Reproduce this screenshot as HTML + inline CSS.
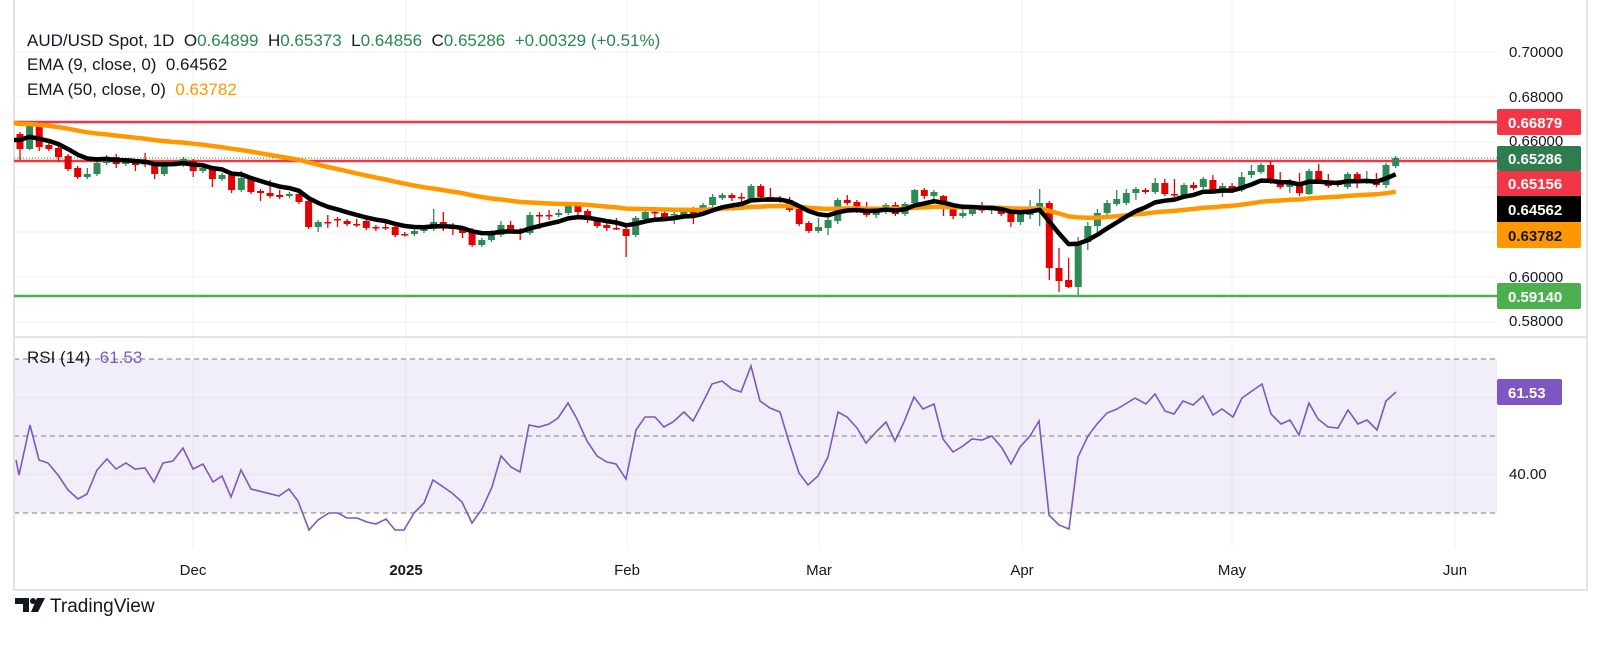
<!DOCTYPE html>
<html><head><meta charset="utf-8">
<style>
html,body{margin:0;padding:0;background:#fff;}
body{width:1602px;height:644px;overflow:hidden;font-family:"Liberation Sans",sans-serif;}
svg text{font-family:"Liberation Sans",sans-serif;white-space:pre;}
</style></head>
<body>
<svg id="c" width="1602" height="644" xmlns="http://www.w3.org/2000/svg">
<rect width="1602" height="644" fill="#fff"/>
<g id="grid" stroke="#f0f1f4" stroke-width="1">
<line x1="14" y1="52" x2="1497" y2="52"/><line x1="14" y1="97" x2="1497" y2="97"/>
<line x1="14" y1="142" x2="1497" y2="142"/><line x1="14" y1="187" x2="1497" y2="187"/>
<line x1="14" y1="232" x2="1497" y2="232"/><line x1="14" y1="277" x2="1497" y2="277"/>
<line x1="14" y1="322" x2="1497" y2="322"/>
<line x1="193" y1="0" x2="193" y2="548"/><line x1="406" y1="0" x2="406" y2="548"/>
<line x1="627" y1="0" x2="627" y2="548"/><line x1="819" y1="0" x2="819" y2="548"/>
<line x1="1022" y1="0" x2="1022" y2="548"/><line x1="1232" y1="0" x2="1232" y2="548"/>
<line x1="1455" y1="0" x2="1455" y2="548"/>
</g>
<rect x="14" y="359" width="1483" height="154" fill="#7e57c2" fill-opacity="0.1"/>
<line x1="14" y1="398" x2="1497" y2="398" stroke="#e6e3ee"/>
<line x1="14" y1="474" x2="1497" y2="474" stroke="#e6e3ee"/>
<g stroke="#787b86" stroke-width="1" stroke-dasharray="5,4">
<line x1="14" y1="359" x2="1497" y2="359"/><line x1="14" y1="436" x2="1497" y2="436"/><line x1="14" y1="513" x2="1497" y2="513"/>
</g>
<line x1="14" y1="337" x2="1587" y2="337" stroke="#e0e3eb" stroke-width="2"/>
<line x1="14" y1="0" x2="14" y2="591" stroke="#e0e3eb" stroke-width="2"/>
<line x1="14" y1="590" x2="1587" y2="590" stroke="#e0e3eb" stroke-width="2"/>
<line x1="1587" y1="0" x2="1587" y2="591" stroke="#e0e3eb" stroke-width="2"/>
<line x1="14" y1="122" x2="1497" y2="122" stroke="#f23645" stroke-width="2.5"/>
<line x1="14" y1="158" x2="1497" y2="158" stroke="#2e8b57" stroke-width="1" stroke-dasharray="1,2"/>
<line x1="14" y1="161" x2="1497" y2="161" stroke="#f23645" stroke-width="2.5"/>
<line x1="14" y1="296" x2="1497" y2="296" stroke="#4caf50" stroke-width="2.5"/>
<g id="candles"></g>
<polyline id="e50" fill="none" stroke="#ff9800" stroke-width="4.5" stroke-linejoin="round"/>
<polyline id="e9" fill="none" stroke="#000" stroke-width="4.5" stroke-linejoin="round"/>
<polyline id="rsi" fill="none" stroke="#7e57c2" stroke-width="1.6" points="16,460 19,475 30,425 39,460 48,463 58,475 68,490 78,499 87,494 97,470 107,459 116,469 126,463 135,469 145,468 154,482 163,463 173,461 183,448 193,469 203,464 213,482 222,476 231,497 241,470 251,489 279,496 289,489 298,501 309,530 318,520 329,513 338,513 347,518 357,518 367,522 376,524 386,519 395,530 404,530 414,513 424,503 433,480 452,493 462,502 472,523 482,509 492,487 501,456 511,467 520,472 529,425 539,427 549,424 558,418 568,403 577,419 587,441 597,456 607,462 616,464 626,479 636,430 645,417 655,417 664,427 673,422 684,412 693,421 703,402 712,384 722,381 732,389 741,392 751,366 760,401 770,408 780,412 789,442 799,473 808,485 818,476 828,457 838,412 847,417 857,428 866,443 876,432 886,422 895,441 904,422 914,397 923,409 934,404 943,439 953,452 963,446 972,439 982,440 992,436 1002,448 1011,464 1020,447 1030,436 1039,421 1049,515 1059,525 1069,529 1078,457 1088,436 1097,424 1107,413 1117,409 1127,403 1135,398 1146,404 1155,394 1165,411 1174,414 1183,401 1193,405 1203,396 1213,415 1222,409 1233,417 1242,398 1252,391 1262,384 1271,414 1281,424 1290,420 1299,435 1309,403 1318,419 1328,427 1338,428 1348,410 1358,424 1367,420 1377,430 1386,401 1396,392"/>
<text x="27" y="46" font-size="17" fill="#131722" xml:space="preserve">AUD/USD Spot, 1D  O<tspan fill="#26894f">0.64899</tspan>  H<tspan fill="#26894f">0.65373</tspan>  L<tspan fill="#26894f">0.64856</tspan>  C<tspan fill="#26894f">0.65286</tspan>  <tspan fill="#26894f">+0.00329 (+0.51%)</tspan></text>
<text x="27" y="70" font-size="17" fill="#131722" xml:space="preserve">EMA (9, close, 0)  0.64562</text>
<text x="27" y="95" font-size="17" fill="#131722" xml:space="preserve">EMA (50, close, 0)  <tspan fill="#ff9800">0.63782</tspan></text>
<text x="27" y="363" font-size="17" fill="#131722" xml:space="preserve">RSI (14)  <tspan fill="#7e57c2">61.53</tspan></text>
<g font-size="15" fill="#131722">
<text x="1509" y="57">0.70000</text><text x="1509" y="102">0.68000</text>
<text x="1509" y="146">0.66000</text><text x="1509" y="282">0.60000</text>
<text x="1509" y="326">0.58000</text><text x="1509" y="479">40.00</text>
</g>
<g font-size="15" font-weight="bold">
<rect x="1497" y="109" width="84" height="26" rx="2" fill="#f23645"/><text x="1508" y="128" fill="#fff">0.66879</text>
<rect x="1497" y="146" width="84" height="25" rx="2" fill="#2e7d4f"/><text x="1508" y="164" fill="#fff">0.65286</text>
<rect x="1497" y="171" width="84" height="25" fill="#f23645"/><text x="1508" y="189" fill="#fff">0.65156</text>
<rect x="1497" y="196" width="84" height="26" fill="#000"/><text x="1508" y="215" fill="#fff">0.64562</text>
<rect x="1497" y="222" width="84" height="26" rx="2" fill="#ff9800"/><text x="1508" y="241" fill="#131722">0.63782</text>
<rect x="1497" y="283" width="84" height="26" rx="2" fill="#4caf50"/><text x="1508" y="302" fill="#fff">0.59140</text>
<rect x="1497" y="379" width="65" height="26" rx="2" fill="#7e57c2"/><text x="1508" y="398" fill="#fff">61.53</text>
</g>
<g font-size="15" fill="#131722" text-anchor="middle">
<text x="193" y="575">Dec</text><text x="406" y="575" font-weight="bold">2025</text>
<text x="627" y="575">Feb</text><text x="819" y="575">Mar</text>
<text x="1022" y="575">Apr</text><text x="1232" y="575">May</text><text x="1455" y="575">Jun</text>
</g>
<g fill="#131722">
<path d="M15 598h14v14h-6v-8h-8z"/><circle cx="33" cy="601" r="3"/><path d="M37 598h8l-7 14h-7z"/>
<text x="50" y="612" font-size="19">TradingView</text>
</g>
</svg>
<script>
var D=[[134,132,160,149],[149,122,150,124],[124,122,151,147],[145,0,0,149],[148,0,161,157],[156,0,0,169],[168,0,0,177],[177,168,0,174],[174,0,0,163],[163,0,0,157],
[157,154,168,164],[164,0,0,161],[161,0,171,165],[163,153,167,164],[164,0,179,174],[174,0,0,165],[164,0,0,163],[165,0,0,159],[161,0,177,171],[171,0,0,168],
[168,0,187,179],[179,0,0,175],[175,0,193,190],[190,171,0,178],[178,0,0,192],[191,0,201,193],[193,180,0,196],[195,190,0,197],[196,0,0,194],[194,0,0,202],
[201,0,0,227],[227,0,232,222],[222,215,228,222.5],[219,0,227,220],[221,0,0,224],[224,219,0,225],[221,0,0,228],[227,0,231,228],[227,222,230,227],[227,0,0,235],
[234,0,0,234.5],[234,0,0,231],[231,0,0,228],[229,209,0,222],[222,212,231,226],[225,0,235,229],[228,0,238,233],[230,0,0,245],[245,0,247,240],[240,230,0,234],
[235,221,0,225],[225,221,0,231],[230,0,240,233],[233,212,0,215],[215,212,229,215.5],[215,210,220,215],[215,209,0,213],[213,202,0,206],[206,0,215,212],[211,0,223,220],
[219,0,0,226],[225,0,231,228],[228,218,230,228.5],[229,0,257,236],[235,0,0,218],[219,210,220,212],[212,0,218,212.5],[213,209,220,217],[215,209,224,214],[215,209,0,210],
[210,207,224,214],[214,203,0,205],[205,194,0,197],[198,193,0,195],[195,0,201,198],[197,193,202,198],[199,0,202,186],[186,0,0,197],[197,188,0,199],[199,196,203,199.5],
[200,197,0,210],[209,0,0,224],[223,0,233,231],[231,218,0,227],[228,0,235,220],[221,0,224,200],[200,195,0,203],[202,0,213,208],[208,202,0,215],[215,207,218,210],
[212,203,0,205],[205,202,216,214],[214,202,0,204],[203,189,0,190],[190,0,199,196],[196,0,204,192],[196,195,216,208],[208,0,219,216],[216,208,0,213],[214,0,0,208],
[209,202,213,210],[210,207,214,209],[208,0,0,214],[212,0,227,222],[222,0,225,214],[215,200,219,209],[210,189,226,203],[203,0,280,268],[268,248,292,281],[280,258,288,287],
[287,237,295,242],[242,222,250,226],[226,209,235,213],[213,200,0,203],[204,190,0,199],[203,189,0,193],[193,187,200,189],[190,188,0,192],[192,178,0,183],[183,179,0,194],
[194,179,197,195],[195,183,0,185],[185,182,190,188],[187,0,0,179],[180,175,0,191],[190,183,197,186],[186,183,193,191],[190,172,0,177],[175,165,178,171],[172,163,0,165],
[165,161,0,182],[181,172,0,187],[187,179,193,183],[183,173,196,193],[194,169,195,171],[171,164,0,181],[181,174,188,186],[182,0,0,185],[187,172,0,174],[174,0,188,182],
[182,171,0,179],[179,173,0,185],[185,163,188,165],[166,156,0,158]];
var g=document.getElementById('candles'),s='',e9=140,e50=124,p9=[],p50=[];
var k9=2/10,k50=2/51,sp=9.62;
for(var i=0;i<D.length;i++){var d=D[i],o=d[0],c=d[3],h=d[1]||Math.min(o,c)-2,l=d[2]||Math.max(o,c)+2;
var x=20+i*sp,up=c<o,col=up?'#2e8b57':'#e60000',t=Math.min(o,c),b=Math.max(o,c);if(b-t<1.5){b=t+1.5;}
s+='<line x1="'+x.toFixed(1)+'" y1="'+h+'" x2="'+x.toFixed(1)+'" y2="'+l+'" stroke="'+col+'" stroke-width="1.3"/>';
s+='<rect x="'+(x-3.5).toFixed(1)+'" y="'+t+'" width="7" height="'+(b-t)+'" fill="'+col+'"/>';
if(i>0){e9=e9+k9*(c-e9);e50=e50+k50*(c-e50);}
p9.push(x.toFixed(1)+','+e9.toFixed(1));p50.push(x.toFixed(1)+','+e50.toFixed(1));}
g.innerHTML=s;
p9.unshift('14,140');p50.unshift('14,123');
document.getElementById('e9').setAttribute('points',p9.join(' '));
document.getElementById('e50').setAttribute('points',p50.join(' '));
</script>
</body></html>
